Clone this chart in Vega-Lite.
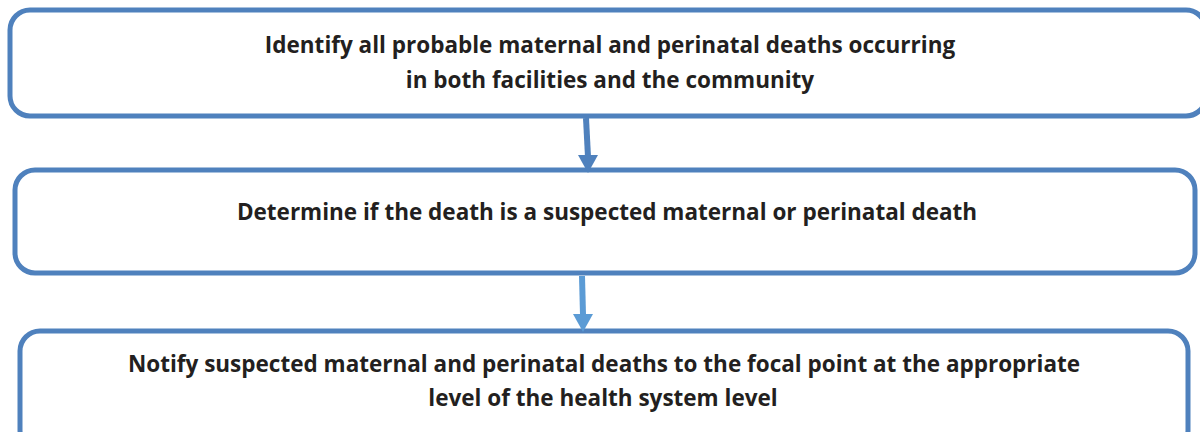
{
  "$schema": "https://vega.github.io/schema/vega-lite/v6.json",
  "width": 1200,
  "height": 432,
  "autosize": {"type": "fit", "contains": "padding"},
  "padding": 0,
  "background": "white",
  "config": {"view": {"stroke": null}},
  "datasets": {
    "boxes": [
      {"step": 1, "x": 10, "x2": 1206, "y": 10, "y2": 116},
      {"step": 2, "x": 15, "x2": 1195, "y": 170, "y2": 273},
      {"step": 3, "x": 20, "x2": 1188, "y": 331, "y2": 450}
    ],
    "shafts": [
      {"arrow": 1, "x": 586, "y": 118, "x2": 588, "y2": 157, "c": "a"},
      {"arrow": 2, "x": 582, "y": 276, "x2": 583, "y2": 315, "c": "b"}
    ],
    "heads": [
      {"arrow": 1, "x": 588, "y": 164, "c": "a"},
      {"arrow": 2, "x": 583, "y": 323, "c": "b"}
    ],
    "labels": [
      {"x": 610, "y": 53, "text": "Identify all probable maternal and perinatal deaths occurring"},
      {"x": 610, "y": 88, "text": "in both facilities and the community"},
      {"x": 607, "y": 220, "text": "Determine if the death is a suspected maternal or perinatal death"},
      {"x": 604, "y": 372, "text": "Notify suspected maternal and perinatal deaths to the focal point at the appropriate"},
      {"x": 603, "y": 406, "text": "level of the health system level"}
    ]
  },
  "layer": [
    {
      "data": {"name": "boxes"},
      "mark": {"type": "rect", "fill": "white", "stroke": "#4F81BD", "strokeWidth": 5, "cornerRadius": 20, "clip": true},
      "encoding": {
        "x": {"field": "x", "type": "quantitative", "scale": {"domain": [0, 1200], "nice": false, "zero": false}, "axis": null},
        "x2": {"field": "x2"},
        "y": {"field": "y", "type": "quantitative", "scale": {"domain": [0, 432], "nice": false, "zero": false, "reverse": true}, "axis": null},
        "y2": {"field": "y2"}
      }
    },
    {
      "data": {"name": "shafts"},
      "mark": {"type": "rule", "strokeWidth": 6, "clip": true},
      "encoding": {
        "x": {"field": "x", "type": "quantitative", "scale": {"domain": [0, 1200], "nice": false, "zero": false}, "axis": null},
        "x2": {"field": "x2"},
        "y": {"field": "y", "type": "quantitative", "scale": {"domain": [0, 432], "nice": false, "zero": false, "reverse": true}, "axis": null},
        "y2": {"field": "y2"},
        "color": {"field": "c", "type": "nominal", "scale": {"domain": ["a", "b"], "range": ["#4F81BD", "#5B9BD5"]}, "legend": null}
      }
    },
    {
      "data": {"name": "heads"},
      "mark": {"type": "point", "shape": "M-1,-0.9L1,-0.9L0,0.9Z", "filled": true, "opacity": 1, "size": 400, "clip": true},
      "encoding": {
        "x": {"field": "x", "type": "quantitative", "scale": {"domain": [0, 1200], "nice": false, "zero": false}, "axis": null},
        "y": {"field": "y", "type": "quantitative", "scale": {"domain": [0, 432], "nice": false, "zero": false, "reverse": true}, "axis": null},
        "color": {"field": "c", "type": "nominal", "scale": {"domain": ["a", "b"], "range": ["#4F81BD", "#5B9BD5"]}, "legend": null}
      }
    },
    {
      "data": {"name": "labels"},
      "mark": {"type": "text", "font": "Open Sans", "fontWeight": "bold", "fontSize": 22.5, "color": "#231F20", "align": "center", "baseline": "alphabetic", "clip": true},
      "encoding": {
        "x": {"field": "x", "type": "quantitative", "scale": {"domain": [0, 1200], "nice": false, "zero": false}, "axis": null},
        "y": {"field": "y", "type": "quantitative", "scale": {"domain": [0, 432], "nice": false, "zero": false, "reverse": true}, "axis": null},
        "text": {"field": "text", "type": "nominal"}
      }
    }
  ]
}
